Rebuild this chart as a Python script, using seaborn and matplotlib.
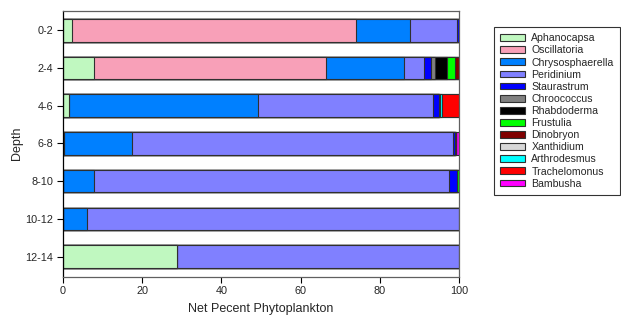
import numpy as np
import pandas as pd
import matplotlib
matplotlib.use("Agg")
import matplotlib.pyplot as plt
from matplotlib.patches import Patch
import seaborn as sns

# Depth intervals (top to bottom)
depths = ["0-2", "2-4", "4-6", "6-8", "8-10", "10-12", "12-14"]

# Net percent of each phytoplankton taxon per depth interval
aphanocapsa      = [2.3, 7.8, 1.6, 0.3, 0.0, 0.0, 28.9]
oscillatoria     = [71.8, 58.6, 0.0, 0.0, 0.0, 0.0, 0.0]
chrysosphaerella = [13.6, 19.8, 47.7, 17.2, 7.8, 6.1, 0.0]
peridinium       = [11.7, 4.9, 44.1, 80.9, 89.8, 93.9, 71.1]
staurastrum      = [0.6, 1.8, 1.5, 0.5, 1.8, 0.0, 0.0]
chroococcus      = [0.0, 1.0, 0.0, 0.0, 0.0, 0.0, 0.0]
rhabdoderma      = [0.0, 3.1, 0.0, 0.0, 0.0, 0.0, 0.0]
frustulia        = [0.0, 2.0, 0.0, 0.0, 0.6, 0.0, 0.0]
dinobryon        = [0.0, 1.0, 0.0, 0.3, 0.0, 0.0, 0.0]
xanthidium       = [0.0, 0.0, 0.3, 0.0, 0.0, 0.0, 0.0]
arthrodesmus     = [0.0, 0.0, 0.5, 0.0, 0.0, 0.0, 0.0]
trachelomonus    = [0.0, 0.0, 4.3, 0.0, 0.0, 0.0, 0.0]
bambusha         = [0.0, 0.0, 0.0, 0.8, 0.0, 0.0, 0.0]

taxa = ["Aphanocapsa", "Oscillatoria", "Chrysosphaerella", "Peridinium",
        "Staurastrum", "Chroococcus", "Rhabdoderma", "Frustulia",
        "Dinobryon", "Xanthidium", "Arthrodesmus", "Trachelomonus", "Bambusha"]
values = [aphanocapsa, oscillatoria, chrysosphaerella, peridinium,
          staurastrum, chroococcus, rhabdoderma, frustulia,
          dinobryon, xanthidium, arthrodesmus, trachelomonus, bambusha]
colors = ["#C0F8C0", "#F8A0B8", "#0080FF", "#8080FF",
          "#0000FF", "#808080", "#000000", "#00FF00",
          "#800000", "#D8D8D8", "#00FFFF", "#FF0000", "#FF00FF"]

df = pd.DataFrame(dict(zip(taxa, values)), index=depths)
cum = df.cumsum(axis=1)

sns.set_style("white")
plt.rcParams["font.family"] = ["Liberation Sans", "DejaVu Sans"]

fig = plt.figure(figsize=(6.21, 3.2), dpi=100)
ax = fig.add_axes([0.1014, 0.1359, 0.6377, 0.8307])

# Stacked bars: draw cumulative totals from the outermost segment inward
for name, col in reversed(list(zip(taxa, colors))):
    sns.barplot(x=cum[name].values, y=depths, orient="h", color=col,
                saturation=1, width=0.6, edgecolor="#303030", linewidth=0.8,
                errorbar=None, ax=ax)

ax.set_xlim(0, 100)
ax.set_ylim(6.53, -0.52)
ax.set_xticks([0, 20, 40, 60, 80, 100])
ax.tick_params(axis="both", which="major", labelsize=7.8, length=4,
               width=0.8, color="black", direction="out", pad=3,
               bottom=True, left=True)
for s in ["top", "right", "bottom"]:
    ax.spines[s].set_color("#606060")
    ax.spines[s].set_linewidth(0.9)
ax.spines["left"].set_color("black")
ax.spines["left"].set_linewidth(0.9)

ax.set_xlabel("Net Pecent Phytoplankton", fontsize=9, labelpad=5)
ax.set_ylabel("Depth", fontsize=9, labelpad=2)

handles = [Patch(facecolor=c, edgecolor="#303030", linewidth=0.8, label=t)
           for t, c in zip(taxa, colors)]
leg = fig.legend(handles=handles, loc="upper left",
                 bbox_to_anchor=(0.7955, 0.9156), borderaxespad=0,
                 fontsize=7.6, frameon=True, fancybox=False,
                 handlelength=2.3, handleheight=0.6, handletextpad=0.65,
                 labelspacing=0.2, borderpad=0.6)
leg.get_frame().set_edgecolor("black")
leg.get_frame().set_linewidth(0.8)

fig.savefig("out.png", dpi=100, facecolor="white")
